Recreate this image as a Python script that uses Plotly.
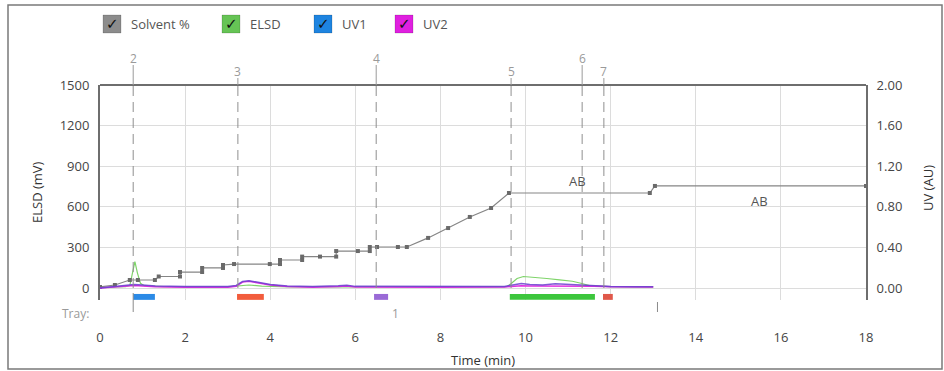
import plotly.graph_objects as go

# ---- chromatogram data ----
# Solvent gradient (drawn against the left scale)
solvent_t = [0.0, 0.35, 0.70, 0.89, 1.29, 1.38, 1.88, 1.88, 2.40, 2.40, 2.89, 2.89, 3.15,
             3.99, 4.23, 4.23, 4.75, 4.75, 5.17, 5.55, 5.55, 6.06, 6.34, 6.34, 6.51, 7.00,
             7.21, 7.71, 8.18, 8.69, 9.19, 9.61, 12.92, 13.04, 18.0]
solvent_level = [8, 22, 59, 59, 59, 85, 85, 118, 118, 148, 148, 170, 177,
                 177, 177, 207, 207, 232, 232, 232, 273, 273, 273, 303, 303, 303,
                 303, 370, 443, 525, 591, 702, 702, 754, 754]

# ELSD trace (mV)
elsd_t = [0.0, 0.3, 0.6, 0.70, 0.76, 0.82, 0.88, 0.95, 1.05, 1.5, 3.0, 3.3, 3.5, 3.8, 4.5,
          6.0, 7.5, 9.0, 9.55, 9.65, 9.8, 9.95, 10.2, 10.5, 10.8, 11.1, 11.3, 11.5, 12.0,
          12.5, 13.0]
elsd_mv = [5, 8, 10, 18, 120, 195, 110, 35, 15, 10, 8, 18, 22, 14, 8,
           8, 8, 8, 10, 30, 70, 85, 80, 70, 60, 50, 35, 18, 10,
           8, 8]

# UV traces (AU)
uv_t = [0.0, 0.2, 0.4, 0.6, 0.8, 1.0, 1.3, 2.0, 3.0, 3.2, 3.35, 3.5, 3.7, 4.0, 4.4, 5.0,
        5.6, 5.8, 6.0, 6.5, 8.0, 9.5, 9.7, 9.9, 10.1, 10.4, 10.7, 11.0, 11.3, 11.6, 12.0,
        12.6, 13.0]
uv1_au = [0.0, 0.01, 0.02, 0.03, 0.035, 0.03, 0.02, 0.015, 0.015, 0.025, 0.065, 0.072,
          0.055, 0.035, 0.02, 0.015, 0.022, 0.028, 0.016, 0.015, 0.013, 0.015, 0.03, 0.045,
          0.035, 0.03, 0.042, 0.035, 0.03, 0.02, 0.015, 0.012, 0.012]
uv2_au = [0.0, 0.006, 0.012, 0.02, 0.024, 0.02, 0.012, 0.008, 0.008, 0.018, 0.058, 0.066,
          0.05, 0.03, 0.014, 0.008, 0.014, 0.02, 0.01, 0.008, 0.008, 0.01, 0.018, 0.022,
          0.02, 0.02, 0.022, 0.02, 0.02, 0.016, 0.012, 0.01, 0.01]

# Collected fractions
frac_start = [0.78, 3.22, 6.44, 9.63, 11.82]
frac_end = [1.29, 3.85, 6.77, 11.63, 12.05]
frac_colors = ["#2b8ae6", "#f25c3c", "#9a6ad6", "#3cc63c", "#e0584a"]

# Fraction markers along the top
marker_t = [0.78, 3.24, 6.49, 9.66, 11.33, 11.84]
marker_labels = ["2", "3", "4", "5", "6", "7"]

# Solvent labels
ab_t = [11.21, 15.49]
ab_level = [791, 643]
ab_text = ["AB", "AB"]

# Tray span
tray_start, tray_end = 0.78, 13.1

x_ticks = [0, 2, 4, 6, 8, 10, 12, 14, 16, 18]
elsd_ticks = [0, 300, 600, 900, 1200, 1500]
uv_ticks = [0.0, 0.4, 0.8, 1.2, 1.6, 2.0]

# ---- layout geometry (pixels) ----
W, H = 944, 371
ML, MR, MT, MB = 100, 78, 85, 71
PW, PH = W - ML - MR, H - MT - MB
Y_LO = -88.7
UV_LO = Y_LO / 750.0


def px(x):
    return (x - ML) / PW


def py(y):
    return (H - MB - y) / PH


FONT = "Open Sans"
TXT = "#454545"

fig = go.Figure()

fig.add_trace(go.Scatter(x=elsd_t, y=elsd_mv, mode="lines", name="ELSD",
                         line=dict(color="#7fd46a", width=1.2), yaxis="y"))
fig.add_trace(go.Scatter(x=uv_t, y=uv2_au, mode="lines", name="UV2",
                         line=dict(color="#e030e0", width=1.5), yaxis="y2"))
fig.add_trace(go.Scatter(x=uv_t, y=uv1_au, mode="lines", name="UV1",
                         line=dict(color="#6a3fd0", width=1.5), opacity=0.85, yaxis="y2"))
fig.add_trace(go.Scatter(x=solvent_t, y=solvent_level, mode="lines+markers", name="Solvent %",
                         line=dict(color="#858585", width=1.2),
                         marker=dict(symbol="square", size=4, color="#6a6a6a"), yaxis="y"))

shapes = []
annotations = []


def label(x, y, text, xref="paper", yref="paper", size=13, color="#555555",
          family=FONT, xanchor="center", angle=0):
    annotations.append(dict(x=x, y=y, xref=xref, yref=yref, text=text, showarrow=False,
                            xanchor=xanchor, yanchor="middle", textangle=angle,
                            font=dict(family=family, size=size, color=color)))


# top frame line of the plot
shapes.append(dict(type="line", xref="paper", yref="paper", x0=0, x1=1, y0=1, y1=1,
                   line=dict(color="#6e6e6e", width=2)))
# outer border
shapes.append(dict(type="rect", xref="paper", yref="paper", x0=px(8), x1=px(942),
                   y0=py(369), y1=py(5), line=dict(color="#7a7a7a", width=1.5)))

# fraction marker lines with numbers above
for i, (t, lab) in enumerate(zip(marker_t, marker_labels)):
    upper = i % 2 == 0
    ylab = 58 if upper else 71
    shapes.append(dict(type="line", xref="x", yref="y", x0=t, x1=t, y0=0, y1=1500,
                       line=dict(color="#8f8f8f", width=1, dash="10px,6px")))
    shapes.append(dict(type="line", xref="x", yref="paper", x0=t, x1=t,
                       y0=1, y1=py(ylab + 7), line=dict(color="#9a9a9a", width=1)))
    label(t, py(ylab), lab, xref="x", size=12, color="#9a9a9a")

# collected fraction bars
for s, e, c in zip(frac_start, frac_end, frac_colors):
    shapes.append(dict(type="rect", xref="x", yref="y", x0=s, x1=e, y0=Y_LO + 1, y1=-44,
                       fillcolor=c, line=dict(width=0)))

# tray span ticks and labels
shapes.append(dict(type="line", xref="x", yref="paper", x0=tray_start, x1=tray_start,
                   y0=py(293), y1=py(312), line=dict(color="#8a8a8a", width=1)))
shapes.append(dict(type="line", xref="x", yref="paper", x0=tray_end, x1=tray_end,
                   y0=py(302), y1=py(312), line=dict(color="#8a8a8a", width=1)))
label(px(60), py(313), "Tray:", size=12, color="#9a9a9a", xanchor="left")
label((tray_start + tray_end) / 2, py(313), "1", xref="x", size=12, color="#9a9a9a")

# solvent labels
for t, v, s in zip(ab_t, ab_level, ab_text):
    label(t, v, s, xref="x", yref="y", size=13, color="#555555")

# axis titles
label(0.5, py(360), "Time (min)", color="#333333")
label(px(37), py(192), "ELSD (mV)", color="#333333", angle=-90)
label(px(928), py(188), "UV (AU)", color="#333333", angle=-90)

# legend built from check boxes
legend_items = [("Solvent %", "#8c8c8c", 103), ("ELSD", "#66c455", 222),
                ("UV1", "#1e84e0", 314), ("UV2", "#e020e0", 395)]
for name, col, x0 in legend_items:
    shapes.append(dict(type="rect", xref="paper", yref="paper", x0=px(x0), x1=px(x0 + 18),
                       y0=py(33), y1=py(15), fillcolor=col,
                       line=dict(color="rgba(0,0,0,0.15)", width=1)))
    label(px(x0 + 9), py(24), "<b>✓</b>", family="DejaVu Sans", size=15, color="#111111")
    label(px(x0 + 26), py(24), name, xanchor="left", color="#555555")

fig.update_layout(
    width=W, height=H,
    margin=dict(l=ML, r=MR, t=MT, b=MB, autoexpand=False),
    paper_bgcolor="white", plot_bgcolor="white",
    showlegend=False,
    font=dict(family=FONT, size=13, color=TXT),
    shapes=shapes, annotations=annotations,
    xaxis=dict(range=[0, 18], tickvals=x_ticks, showgrid=True, gridcolor="#dcdcdc",
               gridwidth=1, zeroline=False, showline=False, ticks="",
               ticklabelstandoff=28, tickfont=dict(family=FONT, size=13, color=TXT)),
    yaxis=dict(range=[Y_LO, 1500], tickvals=elsd_ticks, showgrid=True, gridcolor="#dcdcdc",
               zeroline=False, showline=True, linecolor="#6e6e6e", linewidth=2, ticks="",
               ticklabelstandoff=6, tickfont=dict(family=FONT, size=13, color=TXT)),
    yaxis2=dict(range=[UV_LO, 2.0], tickvals=uv_ticks,
                ticktext=["%.2f" % v for v in uv_ticks], overlaying="y", side="right",
                showgrid=False, zeroline=False, showline=True, linecolor="#6e6e6e",
                linewidth=2, ticks="", ticklabelstandoff=6,
                tickfont=dict(family=FONT, size=13, color=TXT)),
)

fig.write_html("out.html")
